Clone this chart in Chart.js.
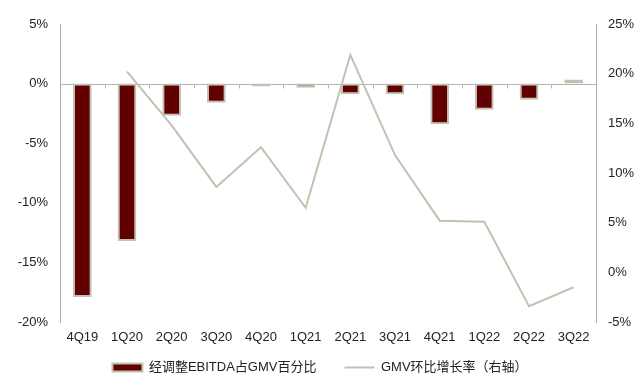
<!DOCTYPE html>
<html>
<head>
<meta charset="utf-8">
<script src="https://cdn.jsdelivr.net/npm/chart.js@4"></script>
<style>
  html, body { margin: 0; padding: 0; background: #fff; }
  #wrap { width: 640px; height: 389px; }
</style>
</head>
<body>
<div id="wrap"><canvas id="chart" width="640" height="389"></canvas></div>
<script>
const quarters = ["4Q19", "1Q20", "2Q20", "3Q20", "4Q20", "1Q21", "2Q21", "3Q21", "4Q21", "1Q22", "2Q22", "3Q22"];
const ebitdaPct = [-17.9, -13.2, -2.7, -1.6, -0.25, -0.35, -0.9, -0.9, -3.4, -2.2, -1.35, 0.35];
const gmvQoq = [null, 20.2, 14.8, 8.6, 12.6, 6.5, 21.9, 11.8, 5.2, 5.1, -3.4, -1.5];
const leftTicks = [-20, 5, 5];   // min, max, step
const rightTicks = [-5, 25, 5];

const lineColor = "#c2c2b2";
const barColor = "#600000";
const axisColor = "#a9a9a9";
const textColor = "#222";

Chart.defaults.font.family = "'Liberation Sans', 'Noto Sans CJK SC', sans-serif";
Chart.defaults.font.size = 13;
Chart.defaults.color = textColor;

// zero line with small category ticks, like the original axis
const zeroAxis = {
  id: "zeroAxis",
  afterLayout(chart) {
    // pull the legend up closer to the category labels
    const lg = chart.legend;
    if (lg) { lg.top -= 17; lg.bottom -= 17; }
  },
  beforeDatasetsDraw(chart) {
    const { ctx, chartArea, scales } = chart;
    const y0 = Math.round(scales.y.getPixelForValue(0)) + 0.5;
    ctx.save();
    ctx.strokeStyle = "#b4b4b4";
    ctx.lineWidth = 1;
    ctx.beginPath();
    ctx.moveTo(chartArea.left, y0);
    ctx.lineTo(chartArea.right, y0);
    for (let i = 1; i < quarters.length; i++) {
      const x = Math.round((scales.x.getPixelForValue(i - 1) + scales.x.getPixelForValue(i)) / 2) + 0.5;
      ctx.moveTo(x, y0);
      ctx.lineTo(x, y0 + 4);
    }
    ctx.stroke();
    ctx.restore();
  }
};

new Chart(document.getElementById("chart"), {
  type: "bar",
  data: {
    labels: quarters,
    datasets: [
      {
        type: "bar",
        label: "经调整EBITDA占GMV百分比",
        data: ebitdaPct,
        backgroundColor: barColor,
        borderColor: lineColor,
        borderWidth: 2,
        borderSkipped: false,
        barPercentage: 0.42,
        categoryPercentage: 1,
        yAxisID: "y",
        order: 1,
      },
      {
        type: "line",
        label: "GMV环比增长率（右轴）",
        data: gmvQoq,
        borderColor: lineColor,
        backgroundColor: lineColor,
        borderWidth: 2,
        pointRadius: 0,
        tension: 0,
        yAxisID: "y2",
        order: 0,
      },
    ],
  },
  options: {
    responsive: false,
    animation: false,
    events: [],
    layout: { padding: { top: 24, bottom: -12 } },
    plugins: {
      tooltip: { enabled: false },
      legend: {
        position: "bottom",
        labels: {
          usePointStyle: true,
          pointStyleWidth: 30,
          boxHeight: 8,
          padding: 28,
          color: textColor,
          sort: (a, b) => a.datasetIndex - b.datasetIndex,
          generateLabels(chart) {
            const items = Chart.defaults.plugins.legend.labels.generateLabels(chart);
            items.forEach(it => {
              if (it.datasetIndex === 0) {
                it.pointStyle = "rect";
                it.fillStyle = barColor;
                it.strokeStyle = lineColor;
                it.lineWidth = 2;
              } else {
                it.pointStyle = "line";
                it.strokeStyle = lineColor;
                it.lineWidth = 2;
              }
            });
            return items;
          },
        },
      },
    },
    scales: {
      x: {
        grid: { display: false, drawTicks: false },
        border: { display: false },
        ticks: { padding: 8, maxRotation: 0, autoSkip: false },
        afterFit(scale) { scale.height = 28; },
      },
      y: {
        position: "left",
        min: leftTicks[0],
        max: leftTicks[1],
        grid: { display: false, drawTicks: false },
        border: { display: true, color: axisColor, width: 1 },
        ticks: { stepSize: leftTicks[2], padding: 12, callback: v => v + "%" },
        afterFit(scale) { scale.width = 60; },
      },
      y2: {
        position: "right",
        min: rightTicks[0],
        max: rightTicks[1],
        grid: { display: false, drawTicks: false },
        border: { display: true, color: axisColor, width: 1 },
        ticks: { stepSize: rightTicks[2], padding: 12, callback: v => v + "%" },
        afterFit(scale) { scale.width = 44; },
      },
    },
  },
  plugins: [zeroAxis],
});
</script>
</body>
</html>
